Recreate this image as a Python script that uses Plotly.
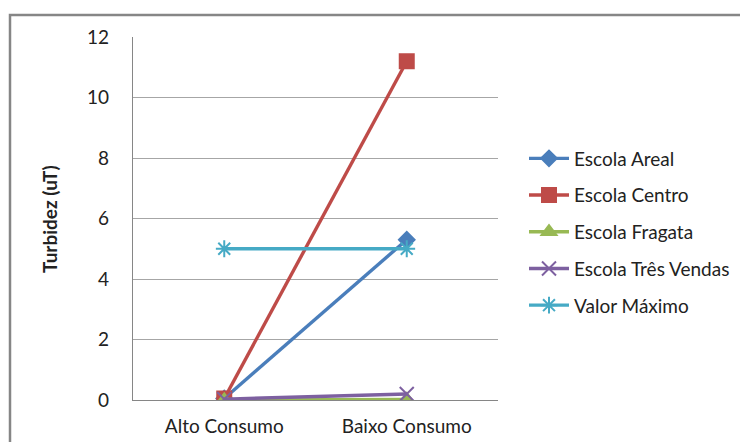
import plotly.graph_objects as go

categories = ["Alto Consumo", "Baixo Consumo"]
series_names = ["Escola Areal", "Escola Centro", "Escola Fragata", "Escola Três Vendas", "Valor Máximo"]
areal = [0.05, 5.3]
centro = [0.05, 11.2]
fragata = [0.0, 0.02]
tres_vendas = [0.03, 0.2]
valor_maximo = [5, 5]
y_ticks = [0, 2, 4, 6, 8, 10, 12]

colors = ["#4A7EBB", "#BE4B48", "#98B954", "#7D60A0", "#46AAC5"]
symbols = ["diamond", "square", "triangle-up", "x-thin-open", "asterisk-open"]
sizes = [12, 14, 13, 14, 14]
values = [areal, centro, fragata, tres_vendas, valor_maximo]

W, H = 740, 442
L, R, T, B = 133, 498, 37, 400
pw, ph = R - L, B - T

fig = go.Figure()
for i, (name, vals) in enumerate(zip(series_names, values)):
    fig.add_trace(go.Scatter(
        x=categories, y=vals, name=name, mode="lines+markers",
        line=dict(color=colors[i], width=3.4),
        marker=dict(symbol=symbols[i], size=sizes[i], color=colors[i],
                    line=dict(color=colors[i], width=2)),
        legendgroup=name,
    ))

font = "Lato, 'Open Sans', sans-serif"

def px_x(x):
    return (x - L) / pw

def px_y(y):
    return (B - y) / ph

fig.update_layout(
    width=W, height=H,
    margin=dict(l=L, r=W - R, t=T, b=H - B, autoexpand=False),
    paper_bgcolor="white", plot_bgcolor="white",
    font=dict(family=font, size=19, color="#222222"),
    showlegend=True,
    legend=dict(x=px_x(524), xanchor="left", y=px_y(232), yanchor="middle",
                traceorder="grouped", tracegroupgap=9,
                font=dict(family=font, size=19, color="#222222"),
                itemwidth=40, bgcolor="rgba(0,0,0,0)"),
    xaxis=dict(type="category", range=[-0.5, 1.5], showgrid=False,
               showline=True, linecolor="#868686", linewidth=1.3,
               ticks="", tickfont=dict(family=font, size=19, color="#222222"),
               ticklabelstandoff=9, zeroline=False, fixedrange=True,
               automargin=False),
    yaxis=dict(range=[0, 12], tickvals=y_ticks, showgrid=True,
               gridcolor="#A6A6A6", gridwidth=1.3,
               showline=True, linecolor="#868686", linewidth=1.3,
               ticks="", tickfont=dict(family=font, size=19, color="#222222"),
               ticklabelstandoff=19, zeroline=False, fixedrange=True,
               automargin=False),
    annotations=[dict(text="<b>Turbidez (uT)</b>", textangle=-90,
                      xref="paper", yref="paper", x=px_x(50), y=px_y(219),
                      showarrow=False, xanchor="center", yanchor="middle",
                      font=dict(family=font, size=19, color="#222222"))],
    shapes=[dict(type="rect", xref="paper", yref="paper",
                 x0=px_x(10), x1=px_x(760), y0=px_y(460), y1=px_y(15),
                 line=dict(color="#868686", width=2.5), layer="below")],
)

fig.write_html("out.html")
